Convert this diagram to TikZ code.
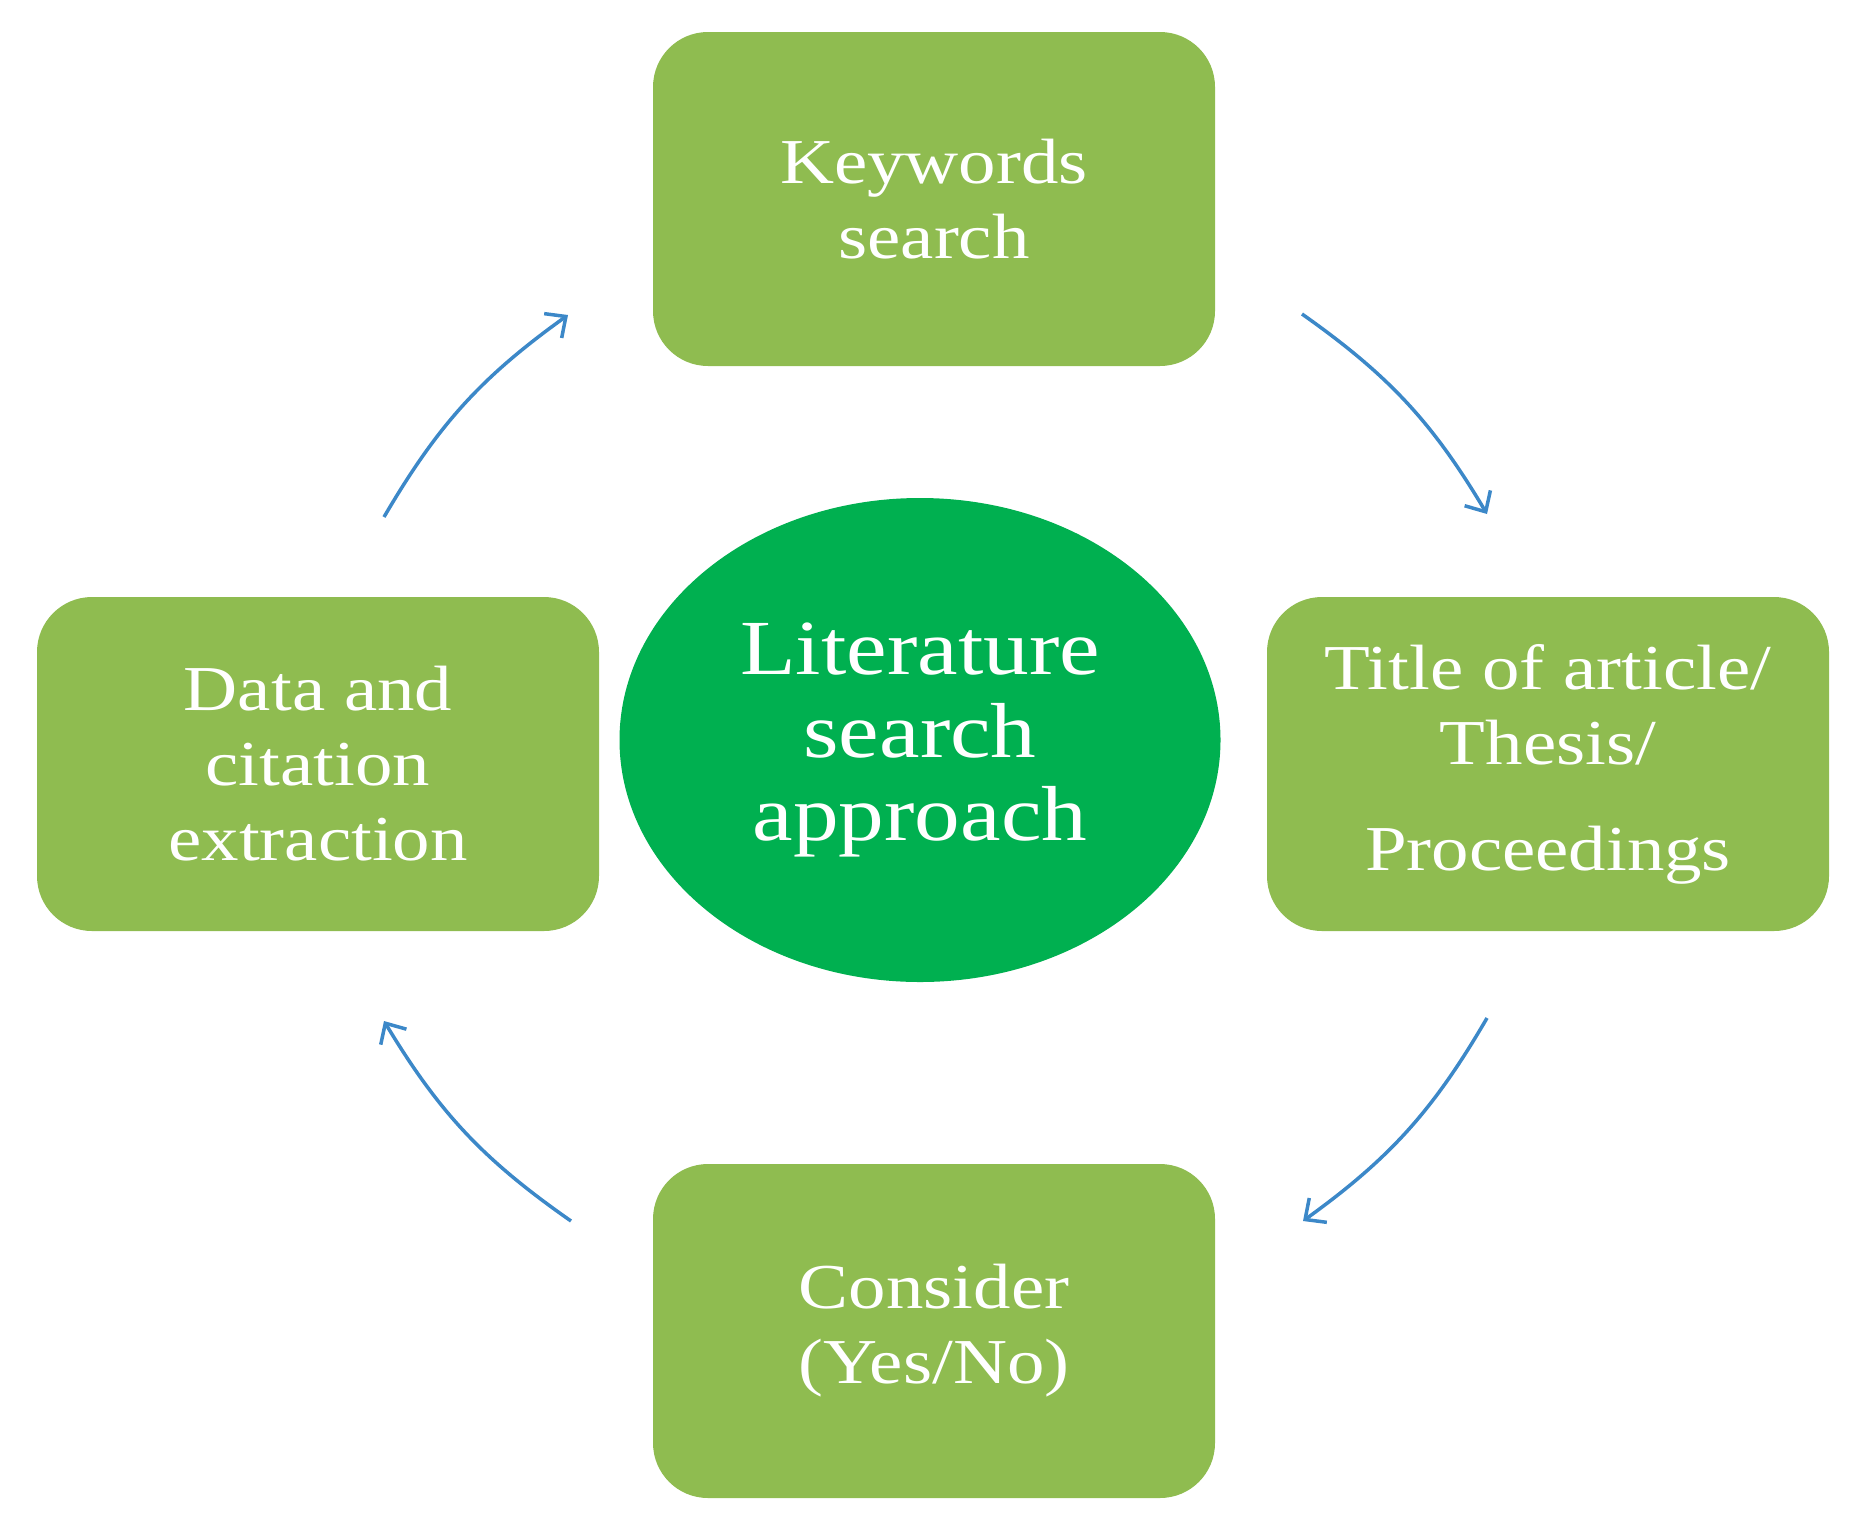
\documentclass[tikz,border=0pt]{standalone}
\usepackage{fontspec}
\setmainfont[FakeStretch=1.17]{Liberation Serif}
\usetikzlibrary{arrows.meta,shapes.geometric}
\definecolor{boxgreen}{RGB}{143,188,80}
\definecolor{midgreen}{RGB}{0,176,80}
\definecolor{arrowblue}{RGB}{60,136,200}
\tikzset{
  stepbox/.style={rectangle, rounded corners=55pt, fill=boxgreen, draw=none,
    minimum width=562pt, minimum height=334pt, inner sep=0pt, text=white,
    align=center, font=\fontsize{64}{75}\selectfont},
  hub/.style={ellipse, fill=midgreen, draw=none, minimum width=601pt,
    minimum height=484pt, inner sep=0pt, text=white, align=center,
    font=\fontsize{78}{83}\selectfont},
  conn/.style={draw=arrowblue, line width=3.5pt,
    -{Straight Barb[length=16pt,width=30pt,line width=3.5pt]}}
}
\begin{document}
\begin{tikzpicture}[x=1pt,y=1pt]
\useasboundingbox (0,0) rectangle (1862,-1529);
\node[stepbox] (top) at (934,-199) {Keywords\\search};
\node[stepbox] (right) at (1548,-764) {Title of article/\\Thesis/\\[31pt]Proceedings};
\node[stepbox] (bottom) at (934,-1331) {Consider\\(Yes/No)};
\node[stepbox] (left) at (318,-764) {Data and\\citation\\extraction};
\node[hub] (center) at (920,-740) {Literature\\search\\approach};
\coordinate (a1s) at (384,-517);
\coordinate (a1e) at (568,-315);
\coordinate (a2s) at (1302,-314);
\coordinate (a2e) at (1487,-514);
\coordinate (a3s) at (1487,-1018);
\coordinate (a3e) at (1303,-1221);
\coordinate (a4s) at (571,-1221);
\coordinate (a4e) at (384,-1021);
\draw[conn] (a1s) to[bend left=12] (a1e);
\draw[conn] (a2s) to[bend left=12] (a2e);
\draw[conn] (a3s) to[bend left=12] (a3e);
\draw[conn] (a4s) to[bend left=12] (a4e);
\end{tikzpicture}
\end{document}
